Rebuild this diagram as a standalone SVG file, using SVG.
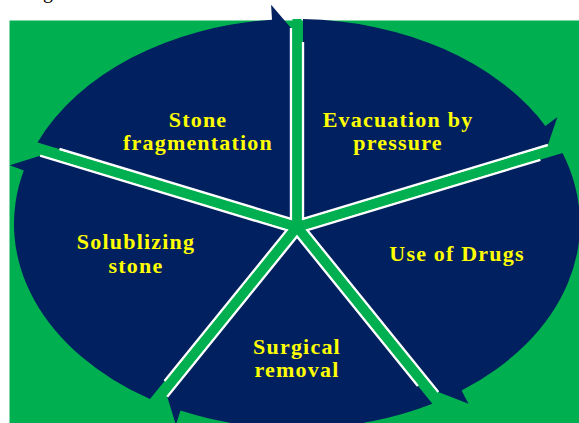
<svg xmlns="http://www.w3.org/2000/svg" width="579" height="423" viewBox="0 0 579 423">
  <style>
    .seg { fill: #002060; stroke: none; }
    .edge { fill: none; stroke: #FFFFFF; stroke-width: 2.4; stroke-linejoin: miter; }
    .spoke { stroke: #00B050; stroke-width: 9; stroke-linecap: butt; }
    .lbl { font-family: "Liberation Serif", "Times New Roman", serif; font-weight: bold; font-size: 22px; letter-spacing: 1.2px; fill: #FFFF00; text-anchor: middle; }
    .cap { font-family: "Liberation Serif", "Times New Roman", serif; font-size: 20px; fill: #000000; }
  </style>
  <rect x="0" y="0" width="579" height="423" fill="#FFFFFF"/>
  <text class="cap" x="43" y="-2">g</text>
  <rect x="9.5" y="20.5" width="570" height="403" fill="#00B050"/>

  <g id="evacuation">
    <path class="seg" d="M303,218.9 L303,19.1 A284,205 0 0 1 545.4,125.9 L557.4,116.9 L547.9,145 Z"/>
    <polyline class="edge" points="303,42 303,218.9 547.9,145"/>
    <text class="lbl" x="398" y="127">Evacuation by</text>
    <text class="lbl" x="398" y="150">pressure</text>
  </g>

  <g id="drugs">
    <path class="seg" d="M307.3,230.2 L562.5,153.1 A284,205 0 0 1 461.6,390.5 L468.5,403.8 L438.3,392 Z"/>
    <polyline class="edge" points="540.4,159.8 307.3,230.2 438.3,392"/>
    <text class="lbl" x="457" y="261">Use of Drugs</text>
  </g>

  <g id="surgical">
    <path class="seg" d="M297,236.5 L432.4,403.8 A284,205 0 0 1 180.5,410.6 L175.9,424.9 L167.2,396.8 Z"/>
    <polyline class="edge" points="417.9,385.9 297,236.5 167.2,396.8"/>
    <text class="lbl" x="297" y="354">Surgical</text>
    <text class="lbl" x="297" y="377">removal</text>
  </g>

  <g id="solublizing">
    <path class="seg" d="M286.7,230.2 L150,399 A284,205 0 0 1 23.8,170.6 L9.8,165.3 L40.1,155.7 Z"/>
    <polyline class="edge" points="164.5,381.1 286.7,230.2 40.1,155.7"/>
    <text class="lbl" x="136" y="249">Solublizing</text>
    <text class="lbl" x="136" y="273">stone</text>
  </g>

  <g id="fragmentation">
    <path class="seg" d="M291,218.9 L37.5,142.4 A284,205 0 0 1 272,19.7 L271.1,4.7 L291,28 Z"/>
    <polyline class="edge" points="59.5,149 291,218.9 291,28"/>
    <text class="lbl" x="198" y="127">Stone</text>
    <text class="lbl" x="198" y="150">fragmentation</text>
  </g>

  <g id="connectors">
    <line class="spoke" x1="297" y1="227" x2="297" y2="19"/>
    <line class="spoke" x1="297" y1="227" x2="560.3" y2="147.5"/>
    <line class="spoke" x1="297" y1="227" x2="439.2" y2="402.6"/>
    <line class="spoke" x1="297" y1="227" x2="154.8" y2="402.6"/>
    <line class="spoke" x1="297" y1="227" x2="33.7" y2="147.5"/>
  </g>
</svg>
